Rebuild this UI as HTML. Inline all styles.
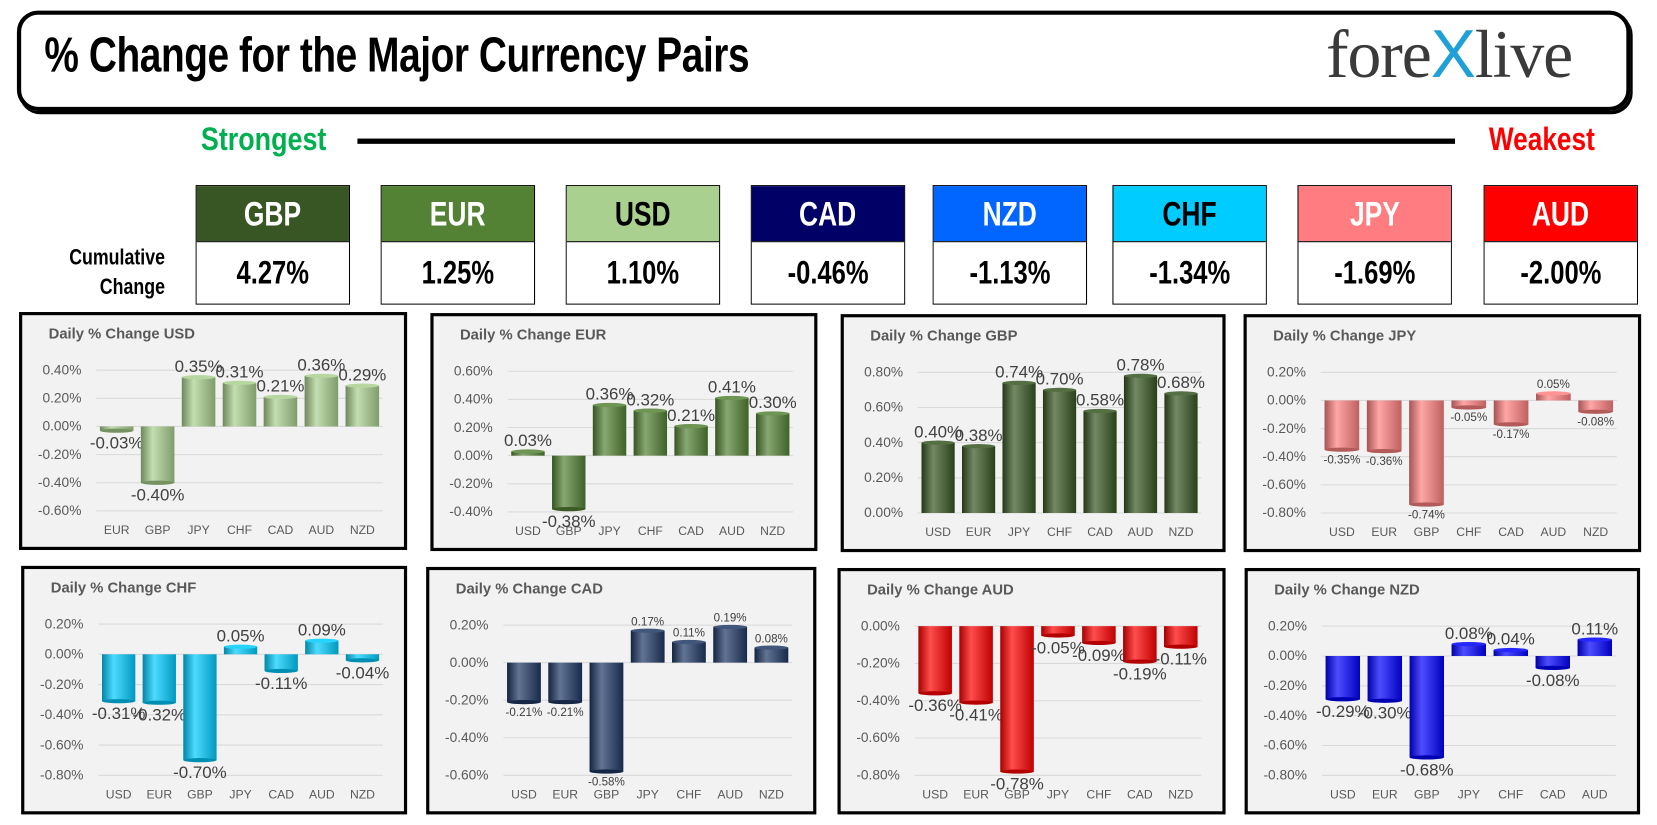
<!DOCTYPE html>
<html><head><meta charset="utf-8">
<style>
html,body{margin:0;padding:0;background:#fff;width:1657px;height:825px;overflow:hidden;font-family:"Liberation Sans",sans-serif}
#wrap{position:absolute;left:0;top:0;width:1567px;height:780px;transform:scale(1.05744,1.0577);transform-origin:0 0}
.abs{position:absolute}
.cond{font-family:"Liberation Sans Narrow","Liberation Sans",sans-serif;font-weight:bold}
.sq{display:inline-block;transform:scaleX(0.78);transform-origin:50% 50%}
.cur{position:absolute;width:146px;border:1px solid #000;box-sizing:border-box}
.cur .h{height:52px;line-height:52px;text-align:center;font-size:32px;color:#fff}
.cur .v{height:58px;line-height:58px;text-align:center;font-size:31px;color:#000;border-top:1px solid #000;background:#fff}
.chart{position:absolute;border:3px solid #000;box-sizing:border-box;background:#f2f2f2}
</style></head><body>
<div id="wrap">
<div class="abs" style="left:16px;top:10px;width:1526px;height:95px;border:4px solid #000;border-radius:20px;box-sizing:border-box;box-shadow:2px 3px 0 #000"></div>
<div class="abs cond" style="left:42px;top:28px;font-size:44px;transform:scale(0.835,1.05);transform-origin:0 50%;letter-spacing:-0.5px;white-space:nowrap">% Change for the Major Currency Pairs</div>
<div class="abs" style="left:1254px;top:14px;font-family:'Liberation Serif',serif;font-size:64px;color:#3a3a3a;letter-spacing:-1px;white-space:nowrap">fore<span style="color:#1fa0d8;font-family:'Liberation Sans',sans-serif">X</span>live</div>
<div class="abs cond" style="left:190px;top:114px;font-size:31px;color:#00b050;transform:scaleX(0.82);transform-origin:0 50%">Strongest</div>
<div class="abs" style="left:338px;top:131px;width:1038px;height:5px;background:#000"></div>
<div class="abs cond" style="left:1408px;top:114px;font-size:31px;color:#ff0000;transform:scaleX(0.8);transform-origin:0 50%">Weakest</div>
<div class="abs cond" style="left:30px;top:230px;width:126px;text-align:right;font-size:21px;line-height:28px;transform:scaleX(0.8);transform-origin:100% 50%">Cumulative<br>Change</div>
<div id="curs"></div>
<div id="charts"></div>
</div>
<script>
const curNames=['GBP','EUR','USD','CAD','NZD','CHF','JPY','AUD'];
const curValues=['4.27%','1.25%','1.10%','-0.46%','-1.13%','-1.34%','-1.69%','-2.00%'];
const curColors=['#375623','#548235','#a9d08e','#000066','#0066ff','#00ccff','#ff7c80','#ff0000'];
const curText=['#fff','#fff','#000','#fff','#fff','#000','#fff','#fff'];
const curX=[185,360,535,710,882,1052,1227,1403];
const cursEl=document.getElementById('curs');
curNames.forEach((n,i)=>{
 const d=document.createElement('div');d.className='cur cond';
 
 
 d.style.left=curX[i]+'px';d.style.top='175px';
 d.innerHTML='<div class="h" style="background:'+curColors[i]+';color:'+curText[i]+'"><span class="sq">'+n+'</span></div><div class="v"><span class="sq">'+curValues[i]+'</span></div>';
 cursEl.appendChild(d);
});

const usdCats=['EUR','GBP','JPY','CHF','CAD','AUD','NZD'];
const usdVals=[-0.03,-0.40,0.35,0.31,0.21,0.36,0.29];
const eurCats=['USD','GBP','JPY','CHF','CAD','AUD','NZD'];
const eurVals=[0.03,-0.38,0.36,0.32,0.21,0.41,0.30];
const gbpCats=['USD','EUR','JPY','CHF','CAD','AUD','NZD'];
const gbpVals=[0.40,0.38,0.74,0.70,0.58,0.78,0.68];
const jpyCats=['USD','EUR','GBP','CHF','CAD','AUD','NZD'];
const jpyVals=[-0.35,-0.36,-0.74,-0.05,-0.17,0.05,-0.08];
const chfCats=['USD','EUR','GBP','JPY','CAD','AUD','NZD'];
const chfVals=[-0.31,-0.32,-0.70,0.05,-0.11,0.09,-0.04];
const cadCats=['USD','EUR','GBP','JPY','CHF','AUD','NZD'];
const cadVals=[-0.21,-0.21,-0.58,0.17,0.11,0.19,0.08];
const audCats=['USD','EUR','GBP','JPY','CHF','CAD','NZD'];
const audVals=[-0.36,-0.41,-0.78,-0.05,-0.09,-0.19,-0.11];
const nzdCats=['USD','EUR','GBP','JPY','CHF','CAD','AUD'];
const nzdVals=[-0.29,-0.30,-0.68,0.08,0.04,-0.08,0.11];
const usdTicks=[-0.6,-0.4,-0.2,0,0.2,0.4];
const eurTicks=[-0.4,-0.2,0,0.2,0.4,0.6];
const gbpTicks=[0,0.2,0.4,0.6,0.8];
const jpyTicks=[-0.8,-0.6,-0.4,-0.2,0,0.2];
const chfTicks=[-0.8,-0.6,-0.4,-0.2,0,0.2];
const cadTicks=[-0.6,-0.4,-0.2,0,0.2];
const audTicks=[-0.8,-0.6,-0.4,-0.2,0];
const nzdTicks=[-0.8,-0.6,-0.4,-0.2,0,0.2];

const charts=[
 {id:'usd',t:'Daily % Change USD',c:usdCats,v:usdVals,k:usdTicks,box:[18,295,367,225],col:'#a9d08e',fs:15},
 {id:'eur',t:'Daily % Change EUR',c:eurCats,v:eurVals,k:eurTicks,box:[407,296,366,225],col:'#548235',fs:15},
 {id:'gbp',t:'Daily % Change GBP',c:gbpCats,v:gbpVals,k:gbpTicks,box:[795,297,364,225],col:'#375623',fs:15},
 {id:'jpy',t:'Daily % Change JPY',c:jpyCats,v:jpyVals,k:jpyTicks,box:[1176,297,376,225],col:'#ff8080',fs:11},
 {id:'chf',t:'Daily % Change CHF',c:chfCats,v:chfVals,k:chfTicks,box:[20,535,365,235],col:'#00ccff',fs:15},
 {id:'cad',t:'Daily % Change CAD',c:cadCats,v:cadVals,k:cadTicks,box:[403,536,369,234],col:'#1f3864',fs:11},
 {id:'aud',t:'Daily % Change AUD',c:audCats,v:audVals,k:audTicks,box:[792,537,367,233],col:'#ff0000',fs:15},
 {id:'nzd',t:'Daily % Change NZD',c:nzdCats,v:nzdVals,k:nzdTicks,box:[1177,537,374,233],col:'#0000ff',fs:15}
];
const NS='http://www.w3.org/2000/svg';
function mk(tag,attrs,parent){const e=document.createElementNS(NS,tag);for(const a in attrs)e.setAttribute(a,attrs[a]);parent.appendChild(e);return e;}
function shade(hex,f){const n=parseInt(hex.slice(1),16);let r=n>>16,g=(n>>8)&255,b=n&255;
 const m=x=>Math.max(0,Math.min(255,Math.round(f<0?x*(1+f):x+(255-x)*f)));return 'rgb('+m(r)+','+m(g)+','+m(b)+')';}
const host=document.getElementById('charts');
charts.forEach(ch=>{
 const [bx,by,bw,bh]=ch.box;
 const div=document.createElement('div');div.className='chart';
 
 
 div.style.left=bx+'px';div.style.top=by+'px';div.style.width=bw+'px';div.style.height=bh+'px';
 host.appendChild(div);
 const W=bw-6,H=bh-6;
 const svg=mk('svg',{width:W,height:H,style:'position:absolute;left:0;top:0'},div);
 const defs=mk('defs',{},svg);
 const g=mk('linearGradient',{id:'g-'+ch.id,x1:0,y1:0,x2:1,y2:0},defs);
 mk('stop',{offset:'0',"stop-color":shade(ch.col,-0.35)},g);
 mk('stop',{offset:'0.35',"stop-color":shade(ch.col,0.3)},g);
 mk('stop',{offset:'1',"stop-color":shade(ch.col,-0.25)},g);
 const title=mk('text',{x:25,y:22,"font-size":14,"font-weight":"bold",fill:'#595959'},svg);title.textContent=ch.t;
 
 
 const kmin=ch.k[0],kmax=ch.k[ch.k.length-1];
 const top=52,bot=H-34,left=70,right=W-20;
 const y=v=>bot-(v-kmin)/(kmax-kmin)*(bot-top);
 const slot=(right-left)/ch.c.length;
 const x=i=>left+slot*(i+0.5);
 ch.k.forEach(t=>{
  const gl=mk('line',{x1:left,x2:right,y1:y(t),y2:y(t),stroke:'#d9d9d9','stroke-width':1},svg);
  
  
  const tl=mk('text',{x:left-14,y:y(t)+4,"font-size":13,fill:'#595959',"text-anchor":'end'},svg);
  tl.textContent=t.toFixed(2)+'%';
  
  
 });
 ch.c.forEach((c,i)=>{
  const cl=mk('text',{x:x(i),y:H-12,"font-size":11.5,fill:'#595959',"text-anchor":'middle'},svg);
  cl.textContent=c;
  
  
 });
 const bw2=slot*0.82;
 ch.v.forEach((v,i)=>{
  const y0=y(0),y1=y(v);
  const r=mk('rect',{x:x(i)-bw2/2,y:Math.min(y0,y1),width:bw2,height:Math.max(1.5,Math.abs(y1-y0)),fill:'url(#g-'+ch.id+')'},svg);
  
  
  mk('ellipse',{cx:x(i),cy:y1,rx:bw2/2,ry:2,fill:shade(ch.col,v>=0?0.15:-0.3)},svg);
  const lb=mk('text',{x:x(i),y:v>=0?y1-5:y1+(ch.fs>12?17:13),"font-size":ch.fs>12?16:ch.fs,fill:'#404040',"text-anchor":'middle'},svg);
  lb.textContent=v.toFixed(2)+'%';
  
  
 });
});
</script>
</body></html>
